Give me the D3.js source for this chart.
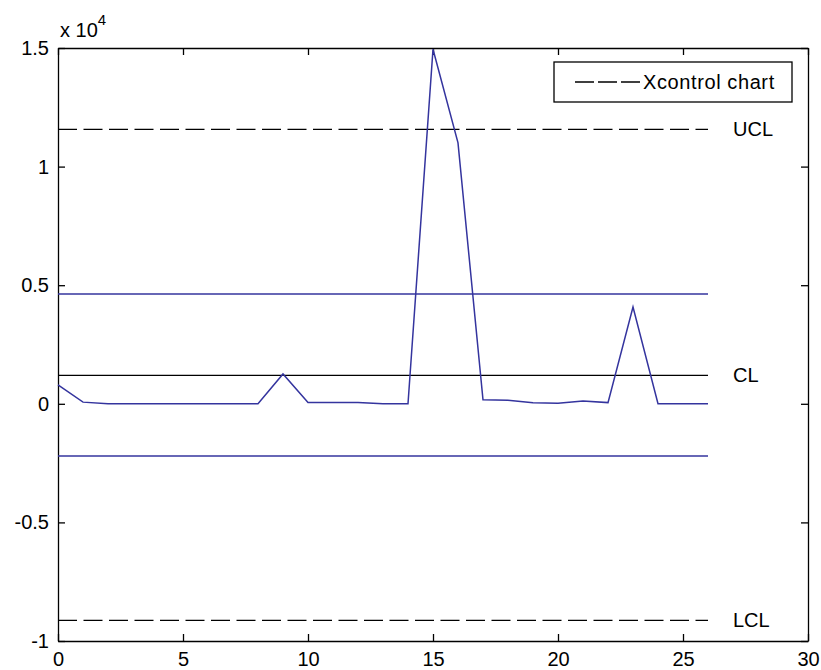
<!DOCTYPE html>
<meta charset="utf-8">
<body style="margin:0;background:#fff">
<script src="https://cdn.jsdelivr.net/npm/d3@7"></script>
<script>
var width = 821, height = 670;

// sample index and values of the X control chart
var samples = d3.range(0, 27);
var values = [800, 70, 0, 0, 0, 0, 0, 0, 0, 1260, 60, 60, 50, 0, 0,
              14950, 11000, 170, 150, 40, 20, 120, 50, 4080, 0, 0, 0];

// control limits
var limitNames = ["UCL", "CL", "LCL"];
var limitValues = [11570, 1200, -9130];
// inner (blue) limits
var innerValues = [4630, -2200];

var xTicks = [0, 5, 10, 15, 20, 25, 30];
var yTicks = [-10000, -5000, 0, 5000, 10000, 15000];
var legendLabel = "Xcontrol chart";

var blue = "#34349e";
var font = "Liberation Sans, Arial, sans-serif";

var x = d3.scaleLinear().domain([0, 30]).range([58, 808]);
var y = d3.scaleLinear().domain([-10000, 15000]).range([641, 48]);

var svg = d3.select("body").append("svg")
    .attr("width", width)
    .attr("height", height)
    .style("font-family", font);

// axes (MATLAB style: ticks inward, box all round)
function styleAxis(g) {
  g.selectAll("path").attr("stroke", "#000").attr("stroke-width", 1.3);
  g.selectAll("line").attr("stroke", "#000").attr("stroke-width", 1.3);
  g.selectAll("text").attr("fill", "#000").style("font-size", "20px").style("font-family", font);
}

svg.append("g")
  .attr("transform", "translate(0," + y.range()[0] + ")")
  .call(d3.axisBottom(x).tickValues(xTicks).tickSizeInner(-7).tickSizeOuter(0).tickPadding(11))
  .call(styleAxis);

svg.append("g")
  .attr("transform", "translate(0," + y.range()[1] + ")")
  .call(d3.axisTop(x).tickValues(xTicks).tickSizeInner(-7).tickSizeOuter(0).tickFormat(""))
  .call(styleAxis);

svg.append("g")
  .attr("transform", "translate(" + x.range()[0] + ",0)")
  .call(d3.axisLeft(y).tickValues(yTicks).tickSizeInner(-7).tickSizeOuter(0).tickPadding(9)
    .tickFormat(function(d) { return String(d / 10000); }))
  .call(styleAxis);

svg.append("g")
  .attr("transform", "translate(" + x.range()[1] + ",0)")
  .call(d3.axisRight(y).tickValues(yTicks).tickSizeInner(-7).tickSizeOuter(0).tickFormat(""))
  .call(styleAxis);

// exponent label
var expo = svg.append("text")
  .attr("x", 60).attr("y", 37)
  .style("font-size", "20px").attr("fill", "#000");
expo.append("tspan").text("x 10");
expo.append("tspan").attr("dy", -12).style("font-size", "15px").text("4");

// control limit lines
svg.selectAll(".limit")
  .data(limitValues)
  .enter().append("line")
  .attr("x1", x(0)).attr("x2", x(26))
  .attr("y1", function(d) { return y(d); })
  .attr("y2", function(d) { return y(d); })
  .attr("stroke", "#000")
  .attr("stroke-width", 1.3)
  .attr("stroke-dasharray", function(d, i) { return i === 1 ? null : "19,6.5"; });

svg.selectAll(".inner")
  .data(innerValues)
  .enter().append("line")
  .attr("x1", x(0)).attr("x2", x(26))
  .attr("y1", function(d) { return y(d); })
  .attr("y2", function(d) { return y(d); })
  .attr("stroke", blue)
  .attr("stroke-width", 1.3);

svg.selectAll(".limitLabel")
  .data(limitValues)
  .enter().append("text")
  .attr("x", x(27))
  .attr("y", function(d) { return y(d); })
  .attr("dy", "0.35em")
  .style("font-size", "20px")
  .text(function(d, i) { return limitNames[i]; });

// data line
var line = d3.line()
  .x(function(d, i) { return x(samples[i]); })
  .y(function(d) { return y(d); });

svg.append("path")
  .datum(values)
  .attr("d", line)
  .attr("fill", "none")
  .attr("stroke", blue)
  .attr("stroke-width", 1.5);

// legend
var lg = svg.append("g");
lg.append("rect")
  .attr("x", 554).attr("y", 62).attr("width", 238).attr("height", 40)
  .attr("fill", "#fff").attr("stroke", "#000").attr("stroke-width", 1.3);
lg.append("line")
  .attr("x1", 575).attr("x2", 640).attr("y1", 82).attr("y2", 82)
  .attr("stroke", "#000").attr("stroke-width", 1.3)
  .attr("stroke-dasharray", "19,4");
lg.append("text")
  .attr("x", 643).attr("y", 82).attr("dy", "0.35em")
  .style("font-size", "20px")
  .style("letter-spacing", "0.6px")
  .text(legendLabel);
</script>
</body>
